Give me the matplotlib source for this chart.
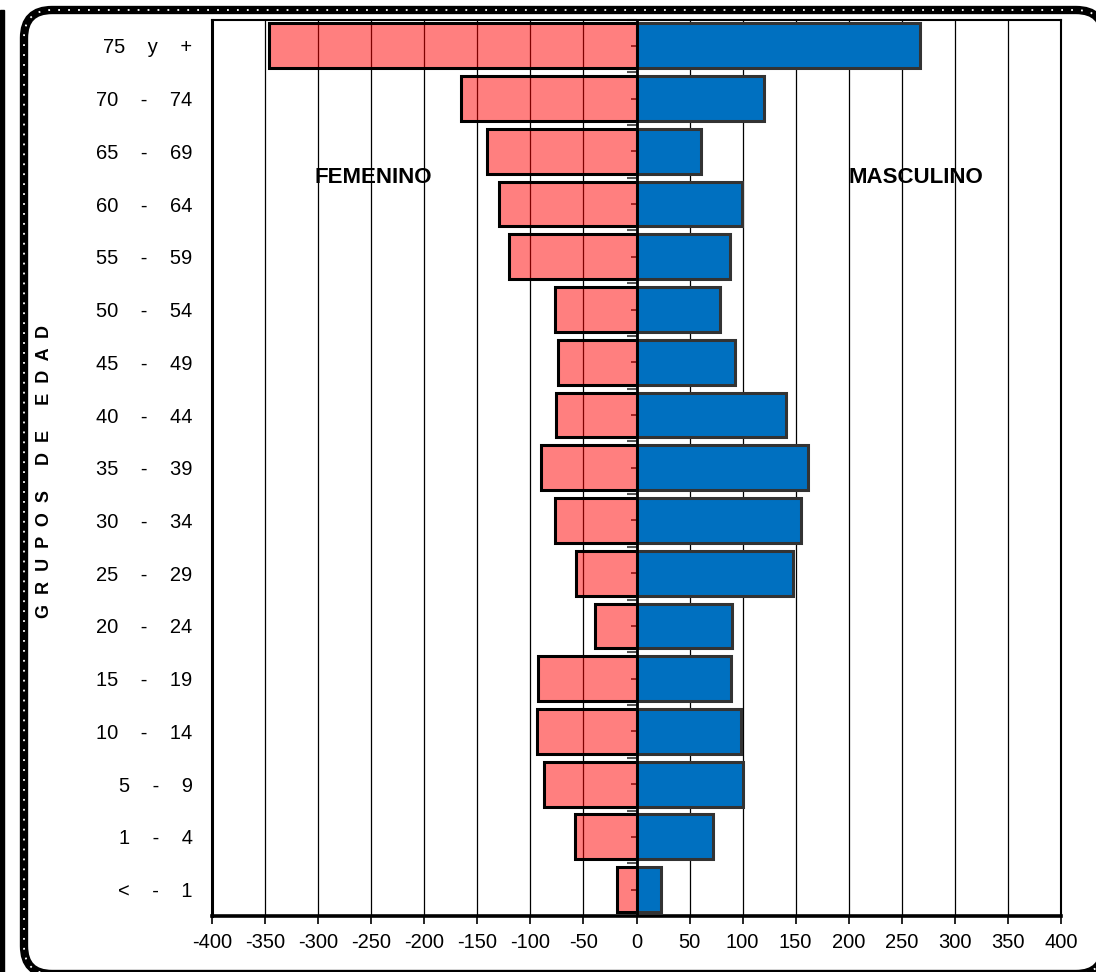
import numpy as np
import matplotlib.pyplot as plt
from matplotlib.patches import FancyBboxPatch, Rectangle

plt.rcParams['font.family'] = ['Liberation Sans', 'DejaVu Sans']

# age groups, top to bottom
grupos_lo = ["75", "70", "65", "60", "55", "50", "45", "40", "35", "30",
             "25", "20", "15", "10", "5", "1", "<"]
grupos_sep = ["y"] + ["-"] * 16
grupos_hi = ["+", "74", "69", "64", "59", "54", "49", "44", "39", "34",
             "29", "24", "19", "14", "9", "4", "1"]

femenino = [346, 165, 141, 130, 120, 77, 74, 76, 90, 77, 57, 39, 93, 94, 87, 58, 18]
masculino = [267, 120, 61, 99, 88, 79, 93, 141, 162, 155, 147, 90, 89, 98, 100, 72, 23]

xticks = list(range(-400, 401, 50))

labels = [f"{a}    {s}    {b}" for a, s, b in zip(grupos_lo, grupos_sep, grupos_hi)]
y = np.arange(len(labels))

W, H = 1096, 972
fig = plt.figure(figsize=(W / 100, H / 100), dpi=100)
ax = fig.add_axes([212 / W, 1 - 916 / H, (1061 - 212) / W, (916 - 19.5) / H])

for xv in xticks[1:-1]:
    ax.axvline(xv, color='black', lw=0.9, zorder=1)

ax.barh(y, -np.array(femenino), height=0.85, color=(1, 0, 0, 0.5),
        edgecolor='black', linewidth=2.2, zorder=3)
ax.barh(y, masculino, height=0.85, color='#0070C0',
        edgecolor='#333333', linewidth=2.2, zorder=3)
ax.axvline(0, color='black', lw=2, zorder=4)

ax.set_xlim(-400, 400)
ax.set_ylim(len(labels) - 0.5, -0.5)
ax.set_xticks(xticks)
ax.set_xticklabels([str(v) for v in xticks], fontsize=14.5)
ax.set_yticks(y)
ax.set_yticklabels(labels, fontsize=14.5)
ax.tick_params(axis='y', length=0, pad=14)
ax.tick_params(axis='x', length=6, width=1.2, pad=6, direction='out')
for s in ax.spines.values():
    s.set_linewidth(1.5)
    s.set_color('black')
ax.spines['left'].set_linewidth(2.2)
ax.spines['bottom'].set_linewidth(2.6)

# category axis ticks on the zero line (pointing left)
sec = ax.secondary_yaxis(0.5)
for sp in sec.spines.values():
    sp.set_visible(False)
sec.set_yticks(y)
sec.set_yticks(np.arange(len(labels) + 1) - 0.5, minor=True)
sec.tick_params(which='both', direction='in', labelleft=False, labelright=False)
sec.tick_params(which='major', length=4, width=1.2, color='#222222')
sec.tick_params(which='minor', length=7, width=1.5, color='#555555')

ax.text(-248, 2.5, "FEMENINO", fontsize=16, fontweight='bold', ha='center', va='center', zorder=5)
ax.text(263, 2.5, "MASCULINO", fontsize=16, fontweight='bold', ha='center', va='center', zorder=5)

fig.text(45 / W, 1 - 471 / H, "G  R  U  P  O  S     D  E     E  D  A  D",
         rotation=90, fontsize=13, fontweight='bold', ha='center', va='center')

# chart area border, partly cut off at right and bottom
# (tiny face alpha keeps Agg from clipping the outline onto the canvas edge)
x0, y0, x1, y1 = 24, -2, 1104, 962
r = 28
box_kw = dict(boxstyle=f"round,pad=0,rounding_size={r / W}", mutation_aspect=W / H,
              transform=fig.transFigure, facecolor=(1, 1, 1, 0.002))
fig.patches.append(FancyBboxPatch((x0 / W, y0 / H), (x1 - x0) / W, (y1 - y0) / H,
                                  edgecolor='black', linewidth=6, **box_kw))
fig.patches.append(FancyBboxPatch((x0 / W, y0 / H), (x1 - x0) / W, (y1 - y0) / H,
                                  edgecolor='white', linewidth=1.3,
                                  linestyle=(0, (1, 4.5)), **box_kw))
fig.patches.append(Rectangle((0, 0), 4 / W, 1 - 10 / H, transform=fig.transFigure,
                             color='black'))

fig.savefig("out.png", dpi=100)
